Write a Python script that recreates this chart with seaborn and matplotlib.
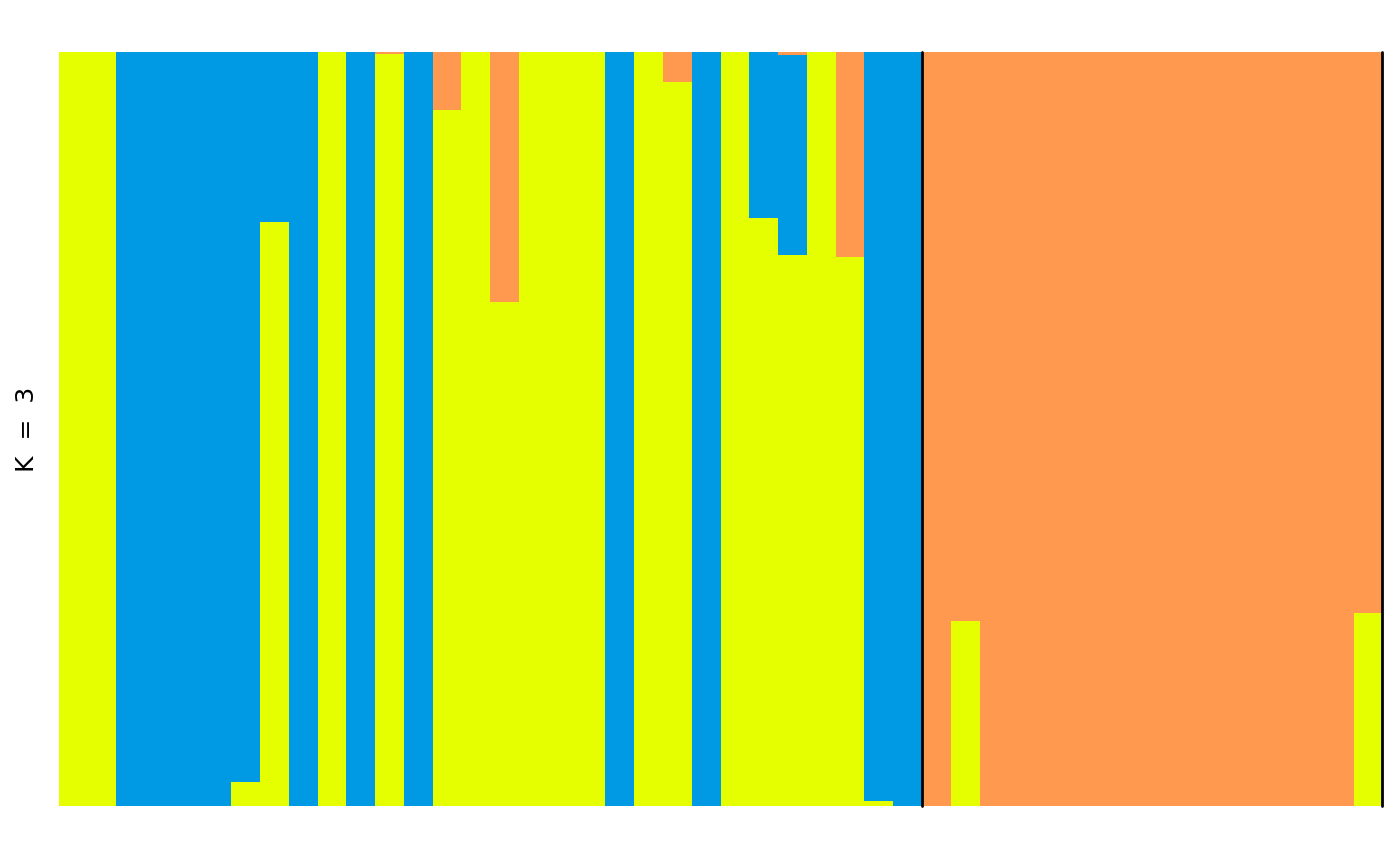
import numpy as np
import pandas as pd
import matplotlib
matplotlib.use("Agg")
import matplotlib.pyplot as plt
import seaborn as sns

# admixture proportions per individual, K = 3
individuals = list(range(1, 47))
yellow = [1.0, 1.0, 0.0, 0.0, 0.0, 0.0, 0.032, 0.775, 0.0, 1.0,
          0.0, 0.998, 0.0, 0.923, 1.0, 0.668, 1.0, 1.0, 1.0, 0.0,
          1.0, 0.960, 0.0, 1.0, 0.780, 0.731, 1.0, 0.728, 0.007, 0.0,
          0.0, 0.245, 0.0, 0.0, 0.0, 0.0, 0.0, 0.0, 0.0, 0.0,
          0.0, 0.0, 0.0, 0.0, 0.0, 0.256]
blue = [0.0, 0.0, 1.0, 1.0, 1.0, 1.0, 0.968, 0.225, 1.0, 0.0,
        1.0, 0.0, 1.0, 0.0, 0.0, 0.0, 0.0, 0.0, 0.0, 1.0,
        0.0, 0.0, 1.0, 0.0, 0.220, 0.265, 0.0, 0.0, 0.993, 1.0,
        0.0, 0.0, 0.0, 0.0, 0.0, 0.0, 0.0, 0.0, 0.0, 0.0,
        0.0, 0.0, 0.0, 0.0, 0.0, 0.0]
orange = [0.0, 0.0, 0.0, 0.0, 0.0, 0.0, 0.0, 0.0, 0.0, 0.0,
          0.0, 0.002, 0.0, 0.077, 0.0, 0.332, 0.0, 0.0, 0.0, 0.0,
          0.0, 0.040, 0.0, 0.0, 0.0, 0.004, 0.0, 0.272, 0.0, 0.0,
          1.0, 0.755, 1.0, 1.0, 1.0, 1.0, 1.0, 1.0, 1.0, 1.0,
          1.0, 1.0, 1.0, 1.0, 1.0, 0.744]
group_sizes = [30, 16]

df = pd.DataFrame({"ind": individuals, "yellow": yellow, "blue": blue, "orange": orange})
df["y_top"] = df["yellow"]
df["b_top"] = df["yellow"] + df["blue"]
df["o_top"] = df["b_top"] + df["orange"]

sns.set_theme(style="white")
fig = plt.figure(figsize=(14, 8.66), dpi=100)
ax = fig.add_axes([58.5 / 1400, 1 - 806 / 866, 1324 / 1400, 754 / 866])

# stacked bars: draw cumulative tops, tallest first
for col, color in [("o_top", "#FF994F"), ("b_top", "#009AE4"), ("y_top", "#E5FF00")]:
    sns.barplot(data=df, x="ind", y=col, color=color, width=1.0,
                linewidth=0, edgecolor="none", saturation=1, ax=ax)

# population separators
edge = -0.5
for n in group_sizes:
    edge += n
    ax.axvline(edge, color="black", lw=2, clip_on=False)

ax.set_xlim(-0.5, len(individuals) - 0.5)
ax.set_ylim(0, 1)
ax.set_xticks([])
ax.set_yticks([])
ax.set_xlabel("")
ax.set_ylabel("K  =  3", fontsize=18, labelpad=14, color="black")
for s in ax.spines.values():
    s.set_visible(False)

fig.savefig("out.png", dpi=100)
